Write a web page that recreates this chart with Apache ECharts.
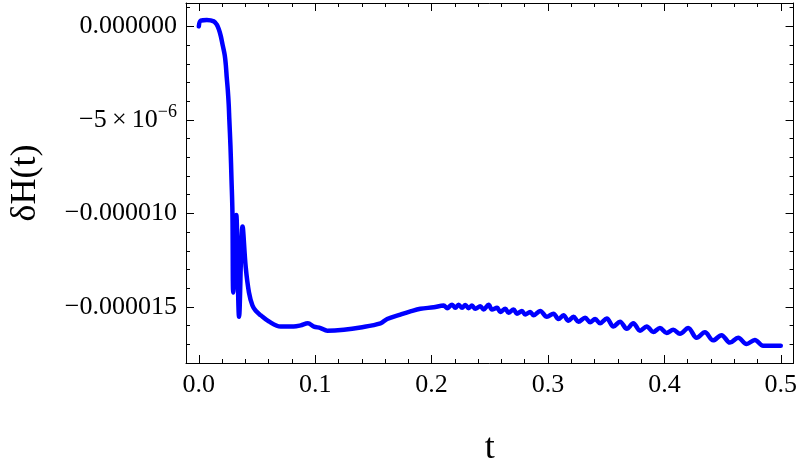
<!DOCTYPE html>
<html>
<head>
<meta charset="utf-8">
<title>dH(t)</title>
<script src="https://cdn.jsdelivr.net/npm/echarts@6/dist/echarts.min.js"></script>
<style>
  html, body { margin: 0; padding: 0; background: #fff; }
  #chart { width: 800px; height: 472px; }
</style>
</head>
<body>
<div id="chart"></div>
<script>
// t values and deltaH values (in units of 1e-6)
var tValues = [
    0.0, 0.0017, 0.0069, 0.0129, 0.0154, 0.0172, 0.0189, 0.0206, 0.0223, 0.0232,
    0.0240, 0.0249, 0.0257, 0.0262, 0.0272, 0.0281, 0.0289, 0.0296, 0.0322, 0.0346,
    0.0376, 0.0403, 0.0431, 0.0461, 0.0489, 0.0532, 0.0600, 0.0703, 0.0815, 0.0875,
    0.0937, 0.0989, 0.1046, 0.1104, 0.1246, 0.1389, 0.1561, 0.1618, 0.1732, 0.1818,
    0.1904, 0.2018, 0.2104, 0.2133, 0.2176, 0.2204, 0.2232, 0.2262, 0.2290, 0.2318,
    0.2347, 0.2376, 0.2418, 0.2447, 0.2490, 0.2519, 0.2562, 0.2590, 0.2633, 0.2661,
    0.2704, 0.2733, 0.2776, 0.2804, 0.2847, 0.2876, 0.2933, 0.2991, 0.3047, 0.3090,
    0.3133, 0.3176, 0.3219, 0.3262, 0.3319, 0.3362, 0.3405, 0.3448, 0.3505, 0.3562,
    0.3619, 0.3677, 0.3733, 0.3791, 0.3848, 0.3905, 0.3962, 0.4020, 0.4076, 0.4134,
    0.4205, 0.4277, 0.4348, 0.4419, 0.4491, 0.4563, 0.4634, 0.4706, 0.4777, 0.4848,
    0.4906, 0.5000
];
var dHValues = [
    0.00, 0.31, 0.34, 0.27, 0.10, -0.15, -0.52, -1.03, -1.55, -2.06,
    -2.73, -3.40, -4.18, -4.95, -6.40, -8.20, -9.95, -14.23, -10.08, -15.53,
    -10.70, -12.87, -14.23, -14.93, -15.21, -15.45, -15.77, -16.05, -16.05, -15.99,
    -15.88, -16.05, -16.13, -16.27, -16.22, -16.10, -15.88, -15.65, -15.41, -15.24,
    -15.10, -15.02, -14.93, -15.07, -14.88, -15.05, -14.88, -15.05, -14.90, -15.07,
    -14.93, -15.10, -14.96, -15.14, -14.88, -15.14, -15.05, -15.27, -15.10, -15.31,
    -15.14, -15.36, -15.22, -15.41, -15.27, -15.45, -15.22, -15.53, -15.36, -15.65,
    -15.45, -15.74, -15.53, -15.79, -15.58, -15.82, -15.65, -15.88, -15.62, -16.05,
    -15.79, -16.17, -15.88, -16.27, -16.05, -16.34, -16.13, -16.39, -16.22, -16.44,
    -16.13, -16.65, -16.36, -16.79, -16.51, -16.91, -16.65, -16.99, -16.77, -17.08,
    -17.08, -17.08
];
var dHScale = 1e-6;

// tick positions and labels
var xMajorTicks = [0, 0.1, 0.2, 0.3, 0.4, 0.5];
var xMinorTicks = [0.02, 0.04, 0.06, 0.08, 0.12, 0.14, 0.16, 0.18, 0.22, 0.24, 0.26, 0.28,
    0.32, 0.34, 0.36, 0.38, 0.42, 0.44, 0.46, 0.48];
var xTickLabels = ['0.0', '0.1', '0.2', '0.3', '0.4', '0.5'];
var yMajorTicks = [0, -5e-6, -1e-5, -1.5e-5];
var yMinorTicks = [1e-6, -1e-6, -2e-6, -3e-6, -4e-6, -6e-6, -7e-6, -8e-6, -9e-6,
    -1.1e-5, -1.2e-5, -1.3e-5, -1.4e-5, -1.6e-5, -1.7e-5];
var yTickLabels = ['0.000000', '{m|\u22125\u2009\u00d7\u200910}{s|\u22126}', '\u22120.000010', '\u22120.000015'];

var xMin = -0.011, xMax = 0.511;
var yMin = -1.8e-5, yMax = 1.25e-6;
var font = "'Liberation Serif', 'Times New Roman', serif";

var seriesData = [];
for (var i = 0; i < tValues.length; i++) {
    seriesData.push([tValues[i], dHValues[i] * dHScale]);
}

function labelFor(ticks, labels) {
    return function (value) {
        for (var i = 0; i < ticks.length; i++) {
            if (Math.abs(value - ticks[i]) < 1e-9) {
                return labels[i];
            }
        }
        return '';
    };
}

function makeX(position, ticks, len, withLabels, withLine) {
    return {
        type: 'value',
        position: position,
        offset: 0,
        min: xMin,
        max: xMax,
        axisLine: {show: withLine, onZero: false, lineStyle: {color: '#000', width: 1}},
        axisTick: {show: true, inside: true, length: len, customValues: ticks,
            lineStyle: {color: '#000', width: 1}},
        axisLabel: withLabels ? {
            show: true, customValues: ticks, margin: 9,
            formatter: labelFor(xMajorTicks, xTickLabels),
            fontFamily: font, fontSize: 26, color: '#000'
        } : {show: false},
        splitLine: {show: false}
    };
}

function makeY(position, ticks, len, withLabels, withLine) {
    return {
        type: 'value',
        position: position,
        offset: 0,
        min: yMin,
        max: yMax,
        axisLine: {show: withLine, onZero: false, lineStyle: {color: '#000', width: 1}},
        axisTick: {show: true, inside: true, length: len, customValues: ticks,
            lineStyle: {color: '#000', width: 1}},
        axisLabel: withLabels ? {
            show: true, customValues: ticks, margin: 9,
            formatter: labelFor(yMajorTicks, yTickLabels),
            fontFamily: font, fontSize: 26, color: '#000',
            rich: {
                m: {fontFamily: font, fontSize: 26, color: '#000'},
                s: {fontFamily: font, fontSize: 18, color: '#000', padding: [0, 0, 15, 0]}
            }
        } : {show: false},
        splitLine: {show: false}
    };
}

var xAxes = [
    makeX('bottom', xMajorTicks, 8, true, true),
    makeX('bottom', xMinorTicks, 4, false, false),
    makeX('top', xMajorTicks, 8, false, true),
    makeX('top', xMinorTicks, 4, false, false)
];
xAxes[0].name = 't';
xAxes[0].nameLocation = 'middle';
xAxes[0].nameGap = 68;
xAxes[0].nameTextStyle = {fontFamily: font, fontSize: 36, color: '#000'};

var yAxes = [
    makeY('left', yMajorTicks, 8, true, true),
    makeY('left', yMinorTicks, 4, false, false),
    makeY('right', yMajorTicks, 8, false, true),
    makeY('right', yMinorTicks, 4, false, false)
];
yAxes[0].name = '\u03b4H(t)';
yAxes[0].nameLocation = 'middle';
yAxes[0].nameRotate = 90;
yAxes[0].nameGap = 142;
yAxes[0].nameTextStyle = {fontFamily: font, fontSize: 36, color: '#000'};

var chart = echarts.init(document.getElementById('chart'));
var option = {
    animation: false,
    backgroundColor: '#fff',
    grid: {left: 185, right: 5, top: 3, bottom: 96, containLabel: false},
    xAxis: xAxes,
    yAxis: yAxes,
    series: [
        {
            type: 'line',
            xAxisIndex: 0,
            yAxisIndex: 0,
            data: seriesData,
            showSymbol: false,
            smooth: 0.35,
            lineStyle: {color: '#0000ff', width: 4.5, join: 'round', cap: 'round'}
        }
    ]
};
chart.setOption(option);
</script>
</body>
</html>
